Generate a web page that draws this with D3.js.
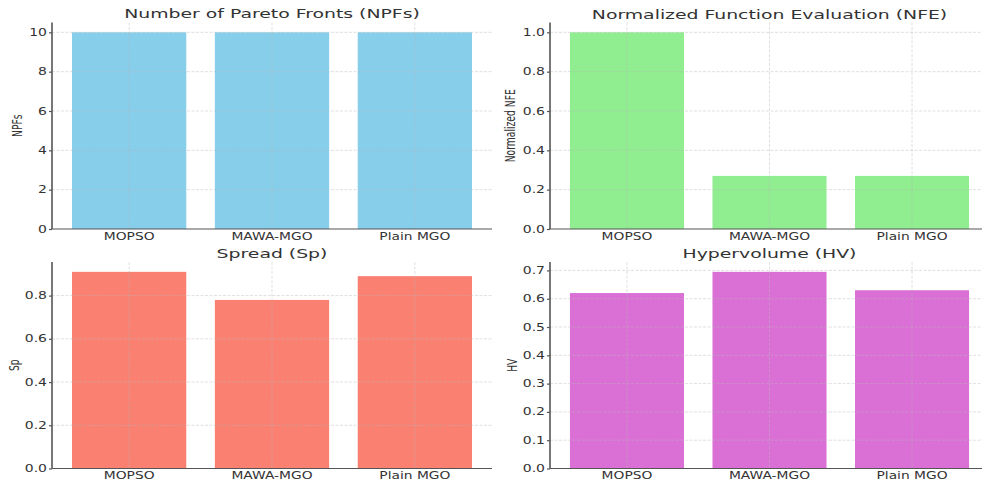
<!DOCTYPE html>
<html>
<head>
<meta charset="utf-8">
<script src="https://cdn.jsdelivr.net/npm/d3@7"></script>
<style>
  html, body { margin: 0; padding: 0; background: #fff; }
  svg { display: block; font-family: "DejaVu Sans", sans-serif; }
</style>
</head>
<body>
<svg id="chart" width="982" height="484"></svg>
<script>
// ---- data ----
const categories = ["MOPSO", "MAWA-MGO", "Plain MGO"];
const npfValues = [10, 10, 10];
const nfeValues = [1.0, 0.27, 0.27];
const spValues = [0.91, 0.78, 0.89];
const hvValues = [0.62, 0.695, 0.63];

const npfTicks = [0, 2, 4, 6, 8, 10];
const nfeTicks = [0, 0.2, 0.4, 0.6, 0.8, 1.0];
const spTicks = [0, 0.2, 0.4, 0.6, 0.8];
const hvTicks = [0, 0.1, 0.2, 0.3, 0.4, 0.5, 0.6, 0.7];

const titles = ["Number of Pareto Fronts (NPFs)", "Normalized Function Evaluation (NFE)", "Spread (Sp)", "Hypervolume (HV)"];
const yLabels = ["NPFs", "Normalized NFE", "Sp", "HV"];
const colors = ["#87CEEB", "#90EE90", "#FA8072", "#DA70D6"];

const panels = [
  { values: npfValues, ticks: npfTicks, fmt: d3.format("d"),   title: titles[0], ylabel: yLabels[0], color: colors[0],
    left: 52, right: 492, top: 22.5, bottom: 229, titleY: 18, ylabOff: 35 },
  { values: nfeValues, ticks: nfeTicks, fmt: d3.format(".1f"), title: titles[1], ylabel: yLabels[1], color: colors[1],
    left: 550, right: 989, top: 22.5, bottom: 229, titleY: 18.5, ylabOff: 40 },
  { values: spValues, ticks: spTicks, fmt: d3.format(".1f"),   title: titles[2], ylabel: yLabels[2], color: colors[2],
    left: 52, right: 492, top: 262, bottom: 468.5, titleY: 257.5, ylabOff: 38 },
  { values: hvValues, ticks: hvTicks, fmt: d3.format(".1f"),   title: titles[3], ylabel: yLabels[3], color: colors[3],
    left: 550, right: 989, top: 262, bottom: 468.5, titleY: 257.5, ylabOff: 38 }
];

const SX = 1.44; // horizontal stretch of the reference's text
const svg = d3.select("#chart");

function stretchedText(g, x, y, txt, opts) {
  const rot = opts.rotate ? ` rotate(${opts.rotate})` : "";
  return g.append("text")
    .attr("transform", `translate(${x},${y}) scale(${opts.sx || SX},1)${rot}`)
    .attr("text-anchor", opts.anchor || "middle")
    .attr("dy", opts.dy || null)
    .attr("font-size", opts.size)
    .attr("fill", opts.fill || "#333")
    .text(txt);
}

panels.forEach(p => {
  const g = svg.append("g");
  const x = d3.scaleBand().domain(categories).range([p.left, p.right])
    .paddingInner(0.2).paddingOuter(0.14);
  const ymax = d3.max(p.values) * 1.05;
  const y = d3.scaleLinear().domain([0, ymax]).range([p.bottom, p.top]);

  // bars
  g.selectAll("rect.bar").data(p.values).join("rect")
    .attr("class", "bar")
    .attr("x", (d, i) => x(categories[i]))
    .attr("width", x.bandwidth())
    .attr("y", d => y(d))
    .attr("height", d => y(0) - y(d))
    .attr("fill", p.color);

  // grid (drawn above bars, like matplotlib default)
  g.selectAll("line.hgrid").data(p.ticks.filter(t => t > 0)).join("line")
    .attr("class", "hgrid")
    .attr("x1", p.left).attr("x2", p.right)
    .attr("y1", d => y(d)).attr("y2", d => y(d))
    .attr("stroke", "#b8b8b8").attr("stroke-opacity", 0.55)
    .attr("stroke-width", 0.8).attr("stroke-dasharray", "3,1.5");
  g.selectAll("line.vgrid").data(categories).join("line")
    .attr("class", "vgrid")
    .attr("x1", d => x(d) + x.bandwidth() / 2).attr("x2", d => x(d) + x.bandwidth() / 2)
    .attr("y1", p.top).attr("y2", p.bottom)
    .attr("stroke", "#b8b8b8").attr("stroke-opacity", 0.55)
    .attr("stroke-width", 0.8).attr("stroke-dasharray", "3,1.5");

  // y axis
  const yAxis = d3.axisLeft(y).tickValues(p.ticks).tickSize(3).tickFormat("");
  const ya = g.append("g").attr("transform", `translate(${p.left},0)`).call(yAxis);
  ya.select(".domain").attr("stroke", "#555").attr("stroke-width", 1.6)
    .attr("d", `M0,${p.top}V${p.bottom}`);
  ya.selectAll(".tick line").attr("stroke", "#555").attr("stroke-width", 1.2);
  p.ticks.forEach(t => {
    stretchedText(g, p.left - 5, y(t), p.fmt(t), { anchor: "end", dy: "0.36em", size: 9.7 });
  });

  // x axis
  const xAxis = d3.axisBottom(x).tickSize(0).tickFormat("");
  const xa = g.append("g").attr("transform", `translate(0,${p.bottom})`).call(xAxis);
  xa.select(".domain").attr("stroke", "#555").attr("stroke-width", 1.2)
    .attr("d", `M${p.left},0H${p.right}`);
  categories.forEach(c => {
    stretchedText(g, x(c) + x.bandwidth() / 2, p.bottom + 10.5, c, { size: 9.6 });
  });

  // title
  stretchedText(g, (p.left + p.right) / 2, p.titleY, p.title, { size: 12.9, sx: 1.46 });

  // y label
  stretchedText(g, p.left - p.ylabOff, (p.top + p.bottom) / 2, p.ylabel,
    { size: 9.2, rotate: -90, dy: "0.35em" });
});
</script>
</body>
</html>
